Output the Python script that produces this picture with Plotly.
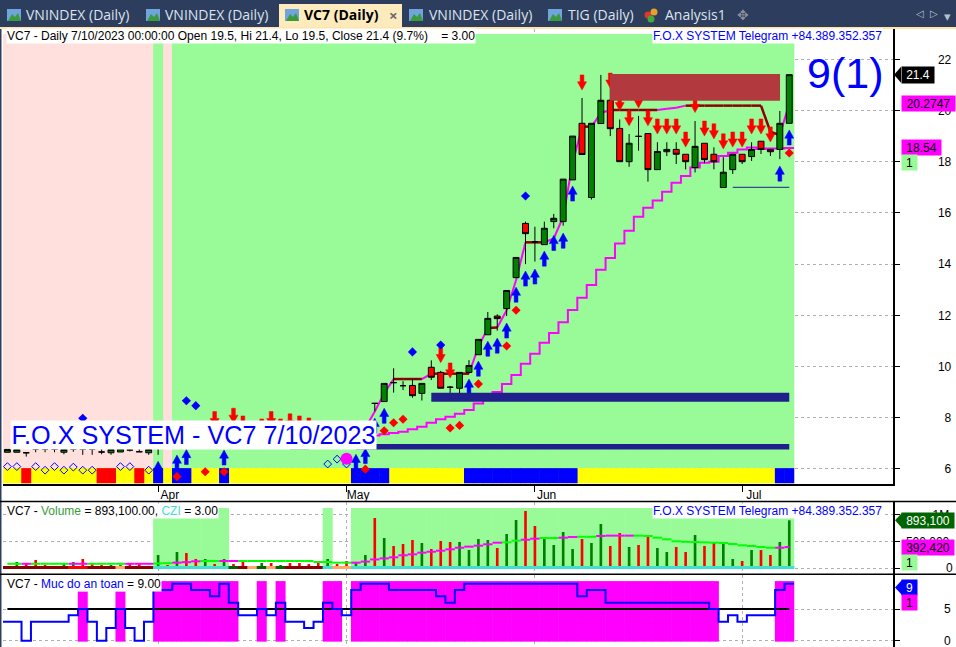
import plotly.graph_objects as go

BARS = list(range(84))
OPEN = [6.65,6.65,6.63,6.78,6.78,6.78,6.65,6.78,6.78,6.78,6.66,6.63,6.66,6.74,6.67,6.63,6.80,
        7.0,7.1,7.2,7.25,7.3,7.4,7.35,7.3,7.25,7.2,7.2,7.15,7.1,7.1,7.05,7.0,7.0,7.05,7.1,7.1,7.2,7.4,
        8.56,8.63,9.37,9.25,9.26,8.95,9.97,9.77,9.19,9.15,9.77,10.46,11.24,11.97,12.26,13.47,15.59,14.87,14.76,15.66,15.66,
        17.29,19.5,16.6,19.49,20.4,19.3,18.0,18.99,19.1,17.69,18.39,18.48,18.29,17.77,18.72,18.29,16.99,17.69,18.29,18.2,18.8,18.48,18.48,19.5]
CLOSE = [6.76,6.76,6.63,6.78,6.78,6.78,6.76,6.78,6.78,6.78,6.66,6.76,6.78,6.74,6.67,6.76,6.80,
         7.1,7.2,7.25,7.3,7.4,7.35,7.3,7.25,7.2,7.2,7.15,7.1,7.1,7.05,7.0,7.0,7.05,7.1,7.1,7.2,7.4,7.6,
         8.56,9.34,9.37,9.25,8.86,9.34,9.58,9.15,9.19,9.77,10.04,11.06,11.88,11.87,12.97,14.26,15.19,14.87,15.4,15.79,17.32,
         19.0,18.28,19.5,20.4,19.29,18.0,18.72,18.99,17.69,18.4,18.48,18.29,18.0,18.6,18.08,18.0,17.59,18.29,18.0,18.48,18.48,18.39,19.5,21.4]
HIGH = [6.76,6.76,6.63,6.78,6.78,6.78,6.76,6.78,6.78,6.78,6.78,6.76,6.78,6.80,6.80,6.76,6.80,
        7.2,7.3,7.35,7.4,7.5,7.5,7.45,7.4,7.35,7.3,7.3,7.25,7.2,7.2,7.15,7.1,7.15,7.2,7.2,7.3,7.5,7.7,
        8.56,9.34,9.93,9.43,9.54,9.34,10.24,9.83,9.24,9.77,10.25,11.06,12.13,12.04,12.97,14.26,15.66,15.46,15.66,15.96,17.32,
        19.0,20.49,19.5,21.39,21.4,19.65,19.08,19.79,19.1,18.76,18.76,18.76,18.29,19.59,18.72,18.56,18.18,18.29,18.29,18.76,18.8,18.48,19.98,21.4]
LOW = [6.65,6.65,6.48,6.65,6.65,6.65,6.57,6.67,6.55,6.55,6.57,6.55,6.66,6.68,6.67,6.55,6.55,
       6.9,7.0,7.1,7.15,7.2,7.25,7.2,7.2,7.1,7.1,7.05,7.0,7.0,6.95,6.9,6.9,6.9,6.95,7.0,7.0,7.1,7.3,
       8.24,8.63,8.98,9.08,8.78,8.67,9.47,9.15,8.77,8.89,9.77,10.46,11.24,11.40,11.97,13.47,14.0,14.1,14.76,15.4,15.5,
       17.29,18.28,16.52,19.49,19.0,18.0,17.8,18.43,17.22,17.69,18.22,17.91,17.7,17.58,17.94,17.7,16.99,17.52,17.91,18.03,18.3,18.22,18.1,19.5]
FAST_MA = [None]*16 + [6.82,6.82,6.9,6.95,7.0,7.05,7.05,7.05,7.05,7.05,7.05,7.05,7.05,7.05,7.05,7.05,7.05,7.1,7.1,7.15,7.2,7.3,7.6,
           8.24,8.95,9.51,9.51,9.51,9.51,9.72,9.72,9.72,9.72,9.72,10.77,11.5,11.52,12.2,13.38,14.85,14.85,14.85,15.0,15.85,
           17.94,19.37,19.37,19.9,20.02,20.02,20.02,20.02,20.02,20.02,20.07,20.11,20.19,20.19,20.19,20.19,20.19,20.19,20.19,20.19,20.19,19.17,19.04,20.2747]
FAST_FLAT = [41,42,43,45,46,47,48,51,55,56,61,64,65,66,67,68,72,73,74,75,76,77,78,79,80,81]
SLOW_MA = [None]*36 + [7.1,7.2,7.25,7.3,7.35,7.4,7.45,7.55,7.65,7.8,7.94,8.04,8.15,8.3,8.55,8.8,9.0,9.32,9.67,10.11,10.5,10.93,11.31,11.73,
           12.21,12.69,13.18,13.78,14.24,14.8,15.3,15.85,16.2,16.48,16.83,17.18,17.44,17.77,17.96,18.0,18.22,18.35,18.48,18.55,18.5,18.52,18.52,18.54]
SELL_BARS = [22,24,25,27,28,29,30,31,32,46,47,61,64,65,66,67,68,69,70,71,72,73,74,75,76,77,78,79,80,81]
SELL_TIPS = [7.65,7.78,7.48,7.36,7.65,7.36,7.56,7.48,7.4,10.15,9.55,20.8,20.87,19.99,19.4,20.1,19.4,19.08,19.08,19.08,18.57,19.92,19.0,18.89,18.5,18.57,18.57,19.08,19.08,18.77]
BUY_BARS = [16,18,19,23,37,38,39,40,49,50,51,52,53,54,55,56,57,58,59,60,82,83]
BUY_TIPS = [6.3,6.54,6.76,6.74,6.57,6.8,7.98,8.37,9.51,10.21,10.99,11.11,11.7,13.1,13.73,13.81,14.51,15.12,15.21,17.05,17.83,19.24]
BLUE_DOT_BARS = [8,19,20,43,46,55]
BLUE_DOT_VALS = [7.98,8.66,8.47,10.57,10.84,16.66]
RED_DOT_BARS = [16,18,21,23,38,40,41,42,47,48,50,53,54,83]
RED_DOT_VALS = [5.37,5.7,5.89,5.89,5.99,7.49,7.8,7.94,7.6,7.7,9.32,10.8,12.2,18.34]
OPEN_DOT_BARS = [0,1,3,4,5,6,7,8,9,12,13,15,34,35,36]
OPEN_DOT_VALS = [6.09,6.09,6.09,5.95,6.09,5.95,6.07,5.95,5.95,6.09,6.09,5.95,6.19,6.38,6.19]
BIG_DOT = (36, 6.4)
GREEN_BARS = [16] + list(range(18, 84))
STRIP_BLUE = [16,18,19,23,37,38,39,40] + list(range(49, 61)) + [82,83]
STRIP_RED = [2,10,11,14]
SUPPORT_HI = ([45, 83], [8.8, 8.8])
SUPPORT_LO = ([30, 32, None, 37, 83], [6.87, 6.87, None, 6.87, 6.87])
SUPPORT_THIN = ([77, 83], [17.0, 17.0])
RESIST_X = [63.97, 82.02, 82.02, 63.97, 63.97]
RESIST_Y = [20.38, 20.38, 21.43, 21.43, 20.38]
VOLUME = [0.02,0.112,0.075,0.15,0.056,0.03,0.088,0.112,0.169,0.075,0.056,0.056,0.056,0.088,0.075,0.04,0.243,0.056,0.3,0.281,0.169,
          0.169,0.075,0.169,0.075,0.118,0.03,0.094,0.094,0.056,0.094,0.094,0.075,0.094,0.169,0.075,0.131,0.112,0.243,0.936,0.562,0.412,
          0.449,0.524,0.468,0.356,0.506,0.487,0.487,0.337,0.543,0.524,0.375,0.637,0.899,1.067,0.787,0.562,0.431,0.674,0.356,0.543,0.468,
          0.824,0.412,0.655,0.393,0.431,0.618,0.375,0.3,0.393,0.3,0.618,0.412,0.487,0.449,0.169,0.131,0.337,0.337,0.243,0.487,0.8931]
VOL_RED = [2,3,4,5,8,9,10,13,14,17,19,20,22,24,25,26,28,30,31,32,33,35,36,39,41,42,43,45,46,47,52,55,56,61,64,65,67,68,71,72,74,75,78,80,81]
VOL_MA = [0.079]*16 + [0.085,0.09,0.1,0.11,0.125,0.131,0.131,0.131,0.131,0.131,0.131,0.131,0.131,0.131,0.131,0.131,0.131,0.112,0.112,0.1,0.1,0.1,0.12,0.16,0.18,0.2,
          0.238,0.256,0.287,0.305,0.324,0.35,0.38,0.4,0.418,0.444,0.474,0.48,0.512,0.53,0.549,0.562,0.562,0.568,0.58,0.585,0.585,0.6,0.606,0.606,0.606,0.606,0.6,
          0.568,0.537,0.5,0.49,0.487,0.48,0.474,0.468,0.449,0.425,0.412,0.393,0.38,0.38,0.39242]
VOL_MA_GREEN = [0,1,3,4,5,6,9,10,11,12,16,17,21,22,25,26,27,28,29,30,31,32,33,34,35,36,53,54,57,58,61,62,67,68,69,70,71,72,73,74,75,76,77,78,79,80,81]
VOL_GREEN_BARS = list(range(16, 24)) + [34] + list(range(37, 84))
CZI_COLORS = (["#8B0000"]*7 + ["#FF0000"]*2 + ["#8B0000"]*3 + ["#FFA860"] + ["#8B0000"]*3 + ["#40E0D0"]*8 + ["#006400","#8B0000","#FFA860","#006400","#FFA860","#006400"]
              + ["#8B0000"]*4 + ["#40E0D0"] + ["#FFA860"]*2 + ["#40E0D0"]*47)
SAFETY = [3,3,0,3,3,3,3,4,5,3,0,2,5,2,0,3,8,8,9,9,8,8,7,9,6,4,4,5,4,6,3,3,2,3,6,5,4,8,9,9,9,
          8,8,8,8,8,7,6,8,9,9,9,9,9,9,9,9,9,9,9,9,7,8,8,6,6,6,6,6,6,6,6,6,6,6,5,3,4,3,4,4,4,8,9]
SAFE_TALL = list(range(16, 25)) + [27,29,34,35] + list(range(37, 76)) + [82,83]
SAFE_SHORT = [8,12]
PRICE_TICKS = [6,8,10,12,14,16,18,20,22]
VOL_TICKS = [0,500000,1000000]
SAFE_TICKS = [0,5]
MONTH_BARS = [16,36,56,78]
MONTHS = ["Apr","May","Jun","Jul"]

W, H = 956, 647
FONT = "Liberation Sans"
TABS = "Open Sans"
PAPER_L, PAPER_R = 3, 893
BAR0, STEP = 7.4, 9.42
X = lambda p: p / W
Y = lambda p: 1 - p / H
BLUE = "#0000FF"
PGREEN = "#98FB98"
MAGENTA = "#FF00FF"
NAVY = "#20208C"
xrange_ = [(PAPER_L - BAR0) / STEP, (PAPER_R - BAR0) / STEP]

def yrange(top, bot, ref, ref_py, ppu):
    return [ref - (bot - ref_py) / ppu, ref + (ref_py - top) / ppu]

R1 = yrange(29, 484, 22, 59.3, 25.6)
R2 = yrange(502, 574, 0, 568, 53.4)
R2 = [R2[0] * 1e6, R2[1] * 1e6]
R3 = yrange(575, 647, 0, 640.7, 6.34)

fig = go.Figure()

def band(bars, color, lo, hi, xa, ya):
    fig.add_trace(go.Bar(x=bars, y=[hi - lo] * len(bars), base=[lo] * len(bars), width=1.06, marker=dict(color=color, line_width=0),
                         xaxis=xa, yaxis=ya, showlegend=False, hoverinfo="skip"))

band(BARS, "#FFE0DC", 6.03, 22.99, "x", "y")
band(GREEN_BARS, PGREEN, 6.03, 22.99, "x", "y")
band(BARS, "#FFFF00", 5.44, 6.03, "x", "y")
band(STRIP_RED, "#FF0000", 5.44, 6.03, "x", "y")
band(STRIP_BLUE, BLUE, 5.44, 6.03, "x", "y")

seg_x_m, seg_y_m, seg_x_r, seg_y_r = [], [], [], []
for i in range(83):
    if FAST_MA[i] is None:
        continue
    if i in FAST_FLAT:
        seg_x_r += [i, i + 1, None]; seg_y_r += [FAST_MA[i], FAST_MA[i + 1], None]
    else:
        seg_x_m += [i, i + 1, None]; seg_y_m += [FAST_MA[i], FAST_MA[i + 1], None]
fig.add_trace(go.Scatter(x=seg_x_m, y=seg_y_m, mode="lines", line=dict(color=MAGENTA, width=2), showlegend=False, hoverinfo="skip"))
fig.add_trace(go.Scatter(x=seg_x_r, y=seg_y_r, mode="lines", line=dict(color="#8B0000", width=2.5), showlegend=False, hoverinfo="skip"))

def step_xy(vals):
    xs, ys = [], []
    for i, v in enumerate(vals):
        if v is not None:
            xs.append(i - 0.5); ys.append(v)
    xs.append(xs[-1] + 1); ys.append(ys[-1])
    return xs, ys

sx, sy = step_xy(SLOW_MA)
fig.add_trace(go.Scatter(x=sx, y=sy, mode="lines", line=dict(color=MAGENTA, width=2, shape="hv"), showlegend=False, hoverinfo="skip"))

fig.add_trace(go.Candlestick(x=BARS, open=OPEN, high=HIGH, low=LOW, close=CLOSE, yaxis="y4", whiskerwidth=0,
                             increasing=dict(fillcolor="#008000", line=dict(color="#000000", width=1)),
                             decreasing=dict(fillcolor="#FF0000", line=dict(color="#000000", width=1)),
                             showlegend=False, hoverinfo="skip"))

def arrows(bars, tips, sign, color):
    xs, ys = [], []
    hw, sw, hh, tot = 0.48, 0.2, 0.32, 0.59
    for b, t in zip(bars, tips):
        xs += [b, b - hw, b - sw, b - sw, b + sw, b + sw, b + hw, b, None]
        ys += [t, t + sign * hh, t + sign * hh, t + sign * tot, t + sign * tot, t + sign * hh, t + sign * hh, t, None]
    fig.add_trace(go.Scatter(x=xs, y=ys, mode="lines", fill="toself", fillcolor=color, line=dict(color=color, width=0.5),
                             yaxis="y4", showlegend=False, hoverinfo="skip"))

arrows(SELL_BARS, SELL_TIPS, 1, "#FF0000")
arrows(BUY_BARS, BUY_TIPS, -1, BLUE)
fig.add_trace(go.Scatter(x=BLUE_DOT_BARS, y=BLUE_DOT_VALS, mode="markers", marker=dict(symbol="diamond", size=7, color=BLUE), yaxis="y4", showlegend=False, hoverinfo="skip"))
fig.add_trace(go.Scatter(x=RED_DOT_BARS, y=RED_DOT_VALS, mode="markers", marker=dict(symbol="diamond", size=7, color="#FF0000"), yaxis="y4", showlegend=False, hoverinfo="skip", cliponaxis=False))
fig.add_trace(go.Scatter(x=OPEN_DOT_BARS, y=OPEN_DOT_VALS, mode="markers", marker=dict(symbol="diamond-open", size=6, color=BLUE, line=dict(width=1, color=BLUE)), yaxis="y4", showlegend=False, hoverinfo="skip"))
fig.add_trace(go.Scatter(x=[BIG_DOT[0]], y=[BIG_DOT[1]], mode="markers", marker=dict(symbol="circle", size=12, color=MAGENTA), yaxis="y4", showlegend=False, hoverinfo="skip"))
fig.add_trace(go.Scatter(x=SUPPORT_HI[0], y=SUPPORT_HI[1], mode="lines", line=dict(color=NAVY, width=9), yaxis="y4", showlegend=False, hoverinfo="skip"))
fig.add_trace(go.Scatter(x=SUPPORT_LO[0], y=SUPPORT_LO[1], mode="lines", line=dict(color=NAVY, width=5.5), yaxis="y4", showlegend=False, hoverinfo="skip"))
fig.add_trace(go.Scatter(x=SUPPORT_THIN[0], y=SUPPORT_THIN[1], mode="lines", line=dict(color=NAVY, width=1), yaxis="y4", showlegend=False, hoverinfo="skip"))
fig.add_trace(go.Scatter(x=RESIST_X, y=RESIST_Y, mode="lines", fill="toself", fillcolor="#B23A3E", line=dict(width=0, color="#B23A3E"), yaxis="y4", showlegend=False, hoverinfo="skip"))

band(VOL_GREEN_BARS, PGREEN, -19000, 1124000, "x2", "y2")
vol_colors = ["#FF0000" if i in VOL_RED else "#008000" for i in BARS]
fig.add_trace(go.Bar(x=BARS, y=[v * 1e6 for v in VOLUME], width=0.28, marker=dict(color=vol_colors, line_width=0), xaxis="x2", yaxis="y2", showlegend=False, hoverinfo="skip"))
fig.add_trace(go.Bar(x=BARS, y=[56000] * 84, base=[-19000] * 84, width=1.06, marker=dict(color=CZI_COLORS, line_width=0), xaxis="x2", yaxis="y2", showlegend=False, hoverinfo="skip"))
vgx, vgy, vmx, vmy = [], [], [], []
for i, v in enumerate(VOL_MA):
    a, b = max(i - 0.5, 0), min(i + 0.5, 83)
    if i in VOL_MA_GREEN:
        vgx += [a, b, None]; vgy += [v * 1e6, v * 1e6, None]
    else:
        vmx += [a, b, None]; vmy += [v * 1e6, v * 1e6, None]
fig.add_trace(go.Scatter(x=vgx, y=vgy, mode="lines", line=dict(color="#00FF00", width=2), xaxis="x2", yaxis="y2", showlegend=False, hoverinfo="skip"))
fig.add_trace(go.Scatter(x=vmx, y=vmy, mode="lines", line=dict(color=MAGENTA, width=2), xaxis="x2", yaxis="y2", showlegend=False, hoverinfo="skip"))

band(SAFE_TALL, MAGENTA, -0.15, 9.4, "x3", "y3")
band(SAFE_SHORT, MAGENTA, -0.15, 7.8, "x3", "y3")
fig.add_trace(go.Scatter(x=[0, 83], y=[5, 5], mode="lines", line=dict(color="#000000", width=2), xaxis="x3", yaxis="y3", showlegend=False, hoverinfo="skip"))
bx, by = step_xy(SAFETY)
fig.add_trace(go.Scatter(x=bx, y=by, mode="lines", line=dict(color=BLUE, width=2, shape="hv"), xaxis="x3", yaxis="y3", showlegend=False, hoverinfo="skip"))

GRID = dict(showgrid=True, gridcolor="#B0B0B0", griddash="dot", gridwidth=1)
YCOMMON = dict(side="right", showline=True, linecolor="#000000", linewidth=1.5, ticks="outside", ticklen=5, tickcolor="#000000",
               tickfont=dict(family=FONT, size=12, color="#000000"), zeroline=False, fixedrange=True, ticklabeloverflow="allow", **GRID)
XCOMMON = dict(range=xrange_, domain=[X(PAPER_L), X(PAPER_R)], tickvals=MONTH_BARS, zeroline=False, fixedrange=True, **GRID)

shapes = []
def rect(x0, y0, x1, y1, color, layer="above"):
    shapes.append(dict(type="rect", xref="paper", yref="paper", x0=X(x0), x1=X(x1), y0=Y(y0), y1=Y(y1), fillcolor=color, line_width=0, layer=layer))
def hline(x0, x1, y, w=1.5):
    shapes.append(dict(type="line", xref="paper", yref="paper", x0=X(x0), x1=X(x1), y0=Y(y), y1=Y(y), line=dict(color="#000000", width=w)))
def poly(points, color):
    d = "M" + " L".join(f"{X(a):.5f},{Y(b):.5f}" for a, b in points) + " Z"
    shapes.append(dict(type="path", xref="paper", yref="paper", path=d, fillcolor=color, line_width=0))

rect(0, 0, W, 27, "#2C3D5E")
rect(0, 27, W, 29, "#FFE4A8")
rect(0, 29, 1.5, H, "#2C3D5E")
rect(279, 4, 402, 27, "#FDEBBE")
hline(0, W, 501.5)
hline(0, W, 574.3)
for ix in [7, 146, 285, 409, 548]:
    rect(ix, 9, ix + 14, 21, "#6FA5DC")
    poly([(ix + 1, 21), (ix + 5, 14), (ix + 8, 17), (ix + 11, 13), (ix + 14, 21)], "#3C9A3C")
for cx, cy, col in [(648, 15, "#D93A2B"), (654, 12, "#E8A02C"), (651, 19, "#46A83C")]:
    shapes.append(dict(type="circle", xref="paper", yref="paper", x0=X(cx - 3.5), x1=X(cx + 3.5), y0=Y(cy + 3.5), y1=Y(cy - 3.5), fillcolor=col, line_width=0))
poly([(894, 74.7), (901, 66.7), (901, 82.7)], "#000000")
poly([(895, 520.3), (902, 513), (902, 528)], "#006400")
poly([(895, 587.5), (902, 580), (902, 595)], BLUE)

ann = []
def text(x, y, s, size=12, color="#000000", family=FONT, bg=None, anchor="left", bold=False, w=None, h=None, align=None, yref="paper", yshift=0):
    a = dict(xref="paper", yref=yref, x=X(x), y=(Y(y) if yref == "paper" else y), text=(f"<b>{s}</b>" if bold else s), showarrow=False,
             xanchor=anchor, yanchor="middle", font=dict(family=family, size=size, color=color), borderpad=0, yshift=yshift)
    if bg: a["bgcolor"] = bg
    if w: a["width"] = w
    if h: a["height"] = h
    if align: a["align"] = align
    ann.append(a)

TC = "#DDE3EC"
text(25, 15, "VNINDEX (Daily)", 14, TC, TABS)
text(164, 15, "VNINDEX (Daily)", 14, TC, TABS)
text(303, 15, "VC7 (Daily)", 14, "#000000", TABS, bold=True)
text(388, 15, "×", 15, "#6A6A6A", TABS, bold=True)
text(428, 15, "VNINDEX (Daily)", 14, TC, TABS)
text(567, 15, "TIG (Daily)", 14, TC, TABS)
text(664, 15, "Analysis1", 14, TC, TABS)
text(736, 15, "✥", 14, "#8A8F99", "DejaVu Sans")
text(915, 14, "◁", 10, "#B8C0CC", "DejaVu Sans")
text(929, 14, "▷", 10, "#B8C0CC", "DejaVu Sans")
text(943, 16, "▾", 13, "#B8C0CC", "DejaVu Sans")

text(6, 36, "VC7 - Daily 7/10/2023 00:00:00 Open 19.5, Hi 21.4, Lo 19.5, Close 21.4 (9.7%)&nbsp;&nbsp;&nbsp; = 3.00", 12, bg="#FFFFFF")
text(652, 36, "F.O.X SYSTEM Telegram +84.389.352.357", 12, BLUE, bg="#FFFFFF")
text(806, 73, "9(1)", 43, BLUE)
text(10, 435, "F.O.X SYSTEM - VC7 7/10/2023", 25.2, BLUE, bg="#FFFFFF", w=365, h=28, align="center")
text(6, 511, 'VC7 - <span style="color:#3C9A3C">Volume</span> = 893,100.00, <span style="color:#40E0D0">CZI</span> = 3.00', 12, bg="#FFFFFF")
text(652, 511.5, "F.O.X SYSTEM Telegram +84.389.352.357", 12, BLUE, bg="#FFFFFF")
text(6, 583.5, 'VC7 - <span style="color:#0000FF">Muc do an toan</span> = 9.00', 12, bg="#FFFFFF")

text(901, 21.4, "21.4", 12, "#FFFFFF", bg="#000000", w=32, h=16, yref="y", align="center")
text(901, 20.2747, "20.2747", 12, bg=MAGENTA, w=53, h=15, yref="y", align="center")
text(901, 18.54, "18.54", 12, bg=MAGENTA, w=39, h=15, yref="y", align="center")
text(901, 18.54, "1", 12, bg=PGREEN, w=15, h=15, yref="y", align="center", yshift=-15)
text(901, 893100, "893,100", 12, "#FFFFFF", bg="#006400", w=52, h=15, yref="y2", align="center")
text(901, 392420, "392,420", 12, bg=MAGENTA, w=52, h=15, yref="y2", align="center")
text(901, 392420, "1", 12, bg=PGREEN, w=15, h=15, yref="y2", align="center", yshift=-15)
text(901, 8.4, "9", 12, "#FFFFFF", bg=BLUE, w=15, h=15, yref="y3", align="center")
text(901, 8.4, "1", 12, bg=MAGENTA, w=15, h=15, yref="y3", align="center", yshift=-15)

pad = "\u00a0"
fig.update_layout(
    width=W, height=H, margin=dict(l=0, r=0, t=0, b=0), autosize=False, paper_bgcolor="#FFFFFF", plot_bgcolor="#FFFFFF",
    barmode="overlay", boxgap=0.1, showlegend=False, dragmode=False, shapes=shapes, annotations=ann,
    font=dict(family=FONT, size=12),
    xaxis=dict(anchor="y", showline=True, linecolor="#000000", linewidth=1.5, ticks="outside", ticklen=6, tickcolor="#000000",
               ticktext=[pad * 7 + m for m in MONTHS], showticklabels=True, ticklabelstandoff=-7, tickfont=dict(family=FONT, size=12, color="#000000"),
               rangeslider=dict(visible=False), **XCOMMON),
    xaxis2=dict(anchor="y2", matches="x", showticklabels=False, **XCOMMON),
    xaxis3=dict(anchor="y3", matches="x", showticklabels=False, **XCOMMON),
    yaxis=dict(domain=[Y(484), Y(29)], range=R1, anchor="x", tickvals=PRICE_TICKS, ticktext=[(pad * 2 if t < 10 else "") + str(t) for t in PRICE_TICKS],
               ticklabelstandoff=36, **YCOMMON),
    yaxis2=dict(domain=[Y(574), Y(502)], range=R2, anchor="x2", tickvals=VOL_TICKS, ticktext=[pad * 12 + "0", "500,000", pad * 8 + "1M"], ticklabelstandoff=4, **YCOMMON),
    yaxis3=dict(domain=[Y(647), Y(575)], range=R3, anchor="x3", tickvals=SAFE_TICKS, ticktext=["0", "5"], ticklabelstandoff=42, **YCOMMON),
    yaxis4=dict(domain=[Y(484), Y(29)], range=R1, overlaying="y", anchor="x", visible=False, fixedrange=True),
)

fig.write_html("out.html", config=dict(displayModeBar=False, staticPlot=True),
               post_script="document.body.style.margin='0';document.documentElement.style.overflow='hidden';")
